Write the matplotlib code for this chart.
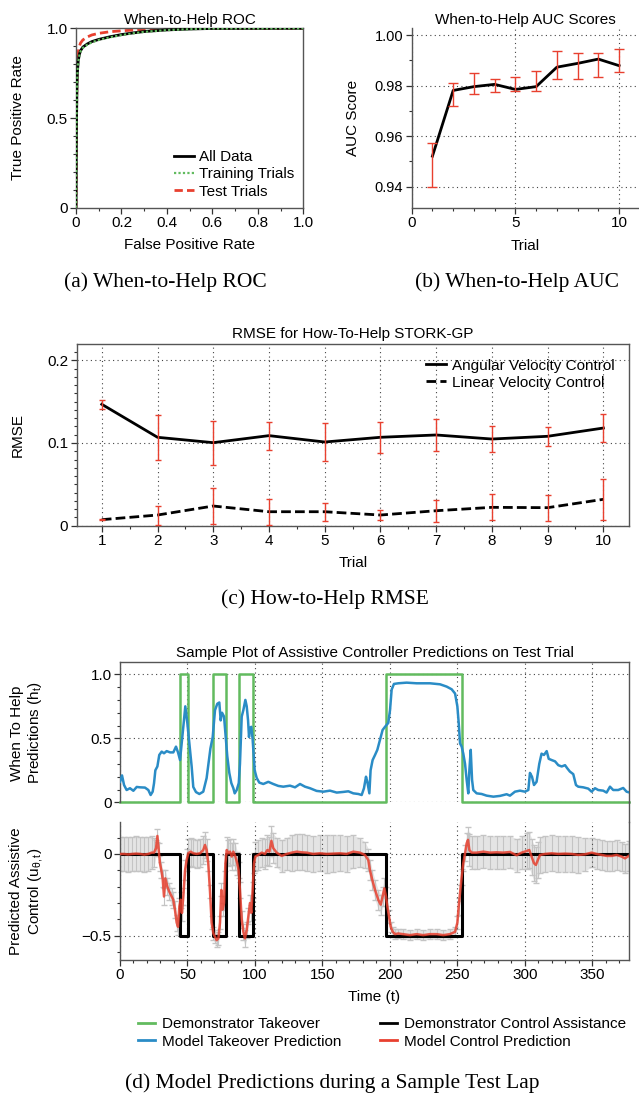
import matplotlib
matplotlib.use('Agg')
import matplotlib.pyplot as plt
from matplotlib.ticker import MultipleLocator, FixedLocator
from matplotlib.lines import Line2D

# ---- (a) ROC curves ----
fpr = [0, 0.002, 0.004, 0.006, 0.01, 0.015, 0.02, 0.03, 0.05, 0.07, 0.1, 0.15, 0.2, 0.25, 0.3, 0.4, 0.5, 0.6, 1.0]
tpr_all = [0, 0.45, 0.65, 0.75, 0.82, 0.855, 0.875, 0.895, 0.913, 0.926, 0.938, 0.953, 0.965, 0.974, 0.982, 0.991, 0.996, 0.999, 1.0]
tpr_train = [0, 0.44, 0.64, 0.745, 0.815, 0.85, 0.871, 0.891, 0.909, 0.922, 0.935, 0.95, 0.962, 0.972, 0.98, 0.99, 0.995, 0.999, 1.0]
tpr_test = [0, 0.5, 0.72, 0.82, 0.87, 0.9, 0.918, 0.935, 0.952, 0.963, 0.972, 0.981, 0.986, 0.99, 0.993, 0.997, 0.999, 1.0, 1.0]

# ---- (b) AUC per trial ----
trials = [1, 2, 3, 4, 5, 6, 7, 8, 9, 10]
auc = [0.9521, 0.9781, 0.9796, 0.9805, 0.9785, 0.9796, 0.9873, 0.9888, 0.9905, 0.9879]
auc_hi = [0.9574, 0.9811, 0.9848, 0.9827, 0.9836, 0.9859, 0.9938, 0.9930, 0.9930, 0.9943]
auc_lo = [0.9397, 0.9719, 0.9768, 0.9776, 0.9780, 0.9778, 0.9825, 0.9826, 0.9833, 0.9854]

# ---- (c) RMSE per trial ----
rmse_ang = [0.1468, 0.1069, 0.1004, 0.1089, 0.1012, 0.1069, 0.1097, 0.1048, 0.1081, 0.1181]
rmse_ang_err = [0.0055, 0.027, 0.0266, 0.017, 0.0226, 0.019, 0.019, 0.0155, 0.0117, 0.017]
rmse_lin = [0.0073, 0.0129, 0.0238, 0.0169, 0.0169, 0.0129, 0.0181, 0.0222, 0.0218, 0.0319]
rmse_lin_err = [0.001, 0.0115, 0.0215, 0.0157, 0.011, 0.006, 0.0135, 0.0157, 0.0157, 0.025]

# ---- (d) sample test lap ----
switch_t = [0, 44.5, 50.7, 68.6, 78.4, 88.4, 98.2, 197.4, 253.6, 377]
takeover = [0, 1, 0, 1, 0, 1, 0, 1, 0, 0]
assist = [0, -0.5, 0, -0.5, 0, -0.5, 0, -0.5, 0, 0]

help_t = [0, 1.5, 3.0, 4.9, 7.4, 9.9, 12.4, 14.8, 18.5, 21.0, 22.7, 24.2, 25.2, 26.2, 27.7, 29.1,
          30.9, 32.6, 34.6, 37.1, 39.5, 41.5, 43.0, 44.5, 45.7, 46.9, 48.4, 49.9, 51.4, 53.1, 54.3,
          56.3, 58.8, 61.7, 64.2, 65.5, 67.0, 68.7, 70.4, 72.1, 73.6, 74.6, 75.6, 77.1, 78.5, 79.5,
          81.0, 82.5, 84.0, 85.0, 86.5, 88.0, 88.9, 90.2, 91.4, 92.9, 93.9, 94.9, 95.6, 96.3, 97.3,
          98.3, 99.8, 101.3, 103.2, 106.2, 109.9, 113.6, 117.3, 121.0, 126.0, 129.7, 133.4, 137.1,
          140.8, 145.7, 150.7, 155.6, 160.6, 165.5, 169.2, 172.9, 176.6, 179.1, 180.8, 182.3, 183.3,
          184.8, 185.7, 187.2, 189.0, 190.7, 192.7, 194.6, 196.4, 198.8, 200.1, 201.3, 203.0, 206.2,
          212.4, 219.8, 229.7, 237.2, 242.1, 245.8, 248.3, 250.0, 251.0, 252.0, 253.2, 254.4, 255.7,
          256.9, 258.1, 258.9, 259.9, 260.9, 261.8, 264.3, 268.0, 271.7, 276.7, 281.6, 286.5, 289.0,
          292.7, 296.4, 300.1, 302.6, 303.8, 305.3, 306.8, 308.7, 310.7, 312.4, 314.2, 316.2, 317.7,
          319.9, 322.4, 324.8, 327.3, 329.8, 331.5, 333.4, 335.9, 337.9, 339.6, 343.3, 347.0, 349.5,
          352.0, 354.4, 358.1, 360.6, 363.1, 365.5, 369.2, 372.9, 375.4, 377.1]
help_pred = [0.16, 0.21, 0.135, 0.096, 0.11, 0.09, 0.12, 0.117, 0.115, 0.096, 0.057, 0.083, 0.148, 0.25, 0.28, 0.37,
             0.396, 0.383, 0.40, 0.39, 0.39, 0.435, 0.39, 0.33, 0.46, 0.59, 0.75, 0.62, 0.46, 0.28, 0.12,
             0.08, 0.065, 0.083, 0.19, 0.30, 0.42, 0.51, 0.72, 0.77, 0.78, 0.64, 0.70, 0.67, 0.49, 0.36,
             0.23, 0.15, 0.11, 0.07, 0.096, 0.15, 0.30, 0.67, 0.72, 0.80, 0.75, 0.64, 0.51, 0.58, 0.59,
             0.49, 0.25, 0.19, 0.154, 0.143, 0.16, 0.143, 0.128, 0.122, 0.13, 0.117, 0.143, 0.122,
             0.11, 0.089, 0.083, 0.091, 0.076, 0.081, 0.086, 0.07, 0.065, 0.057, 0.11, 0.20, 0.16,
             0.07, 0.25, 0.33, 0.37, 0.41, 0.49, 0.565, 0.59, 0.62, 0.72, 0.88, 0.925, 0.93,
             0.935, 0.93, 0.93, 0.922, 0.904, 0.883, 0.85, 0.75, 0.62, 0.46, 0.435, 0.38, 0.30,
             0.175, 0.07, 0.25, 0.41, 0.175, 0.096, 0.07, 0.065, 0.052, 0.044, 0.05, 0.063, 0.052,
             0.083, 0.091, 0.083, 0.096, 0.23, 0.20, 0.135, 0.16, 0.30, 0.38, 0.37, 0.40, 0.34,
             0.33, 0.32, 0.29, 0.28, 0.29, 0.265, 0.24, 0.22, 0.135, 0.122, 0.117, 0.107, 0.083,
             0.11, 0.096, 0.091, 0.076, 0.122, 0.096, 0.096, 0.112, 0.083, 0.078]

ctrl_t = [0, 3, 6, 9, 12, 15, 18, 21, 23.5, 25.2, 26.7, 27.7, 28.7, 29.6, 30.6, 31.6, 32.6, 33.6, 35.1,
          36.5, 38.3, 39.5, 40.7, 42.0, 43.0, 44.0, 44.9, 45.9, 46.9, 48.2, 49.4, 50.6, 52.3, 54.3,
          56.8, 59.3, 61.7, 63.0, 64.2, 65.4, 66.7, 67.9, 69.2, 70.4, 71.6, 72.9, 74.1, 75.1, 76.1,
          77.1, 78.1, 79.1, 80.3, 81.5, 82.8, 84.0, 85.5, 86.9, 87.9, 88.9, 90.2, 91.4, 92.6, 93.9,
          95.1, 96.3, 97.3, 98.3, 99.3, 100.3, 102.5, 105.0, 107.4, 109.2, 110.7, 112.2, 113.6,
          116.1, 119.8, 123.5, 127.2, 130.9, 134.6, 138.3, 143.2, 148.2, 153.1, 158.1, 163.0,
          167.9, 172.9, 177.8, 181.5, 184.0, 185.2, 187.0, 189.0, 191.4, 193.2, 194.6, 195.9,
          197.1, 198.1, 199.3, 200.6, 202.1, 203.8, 206.2, 209.9, 214.9, 219.8, 224.7, 229.7,
          234.6, 239.6, 244.5, 248.3, 250.0, 251.0, 252.0, 253.2, 254.4, 255.7, 256.9, 257.9,
          258.9, 260.6, 264.3, 269.3, 274.2, 279.1, 284.1, 289.0, 293.9, 297.6, 301.4, 303.3,
          305.0, 306.8, 308.2, 309.7, 311.2, 314.9, 319.9, 324.8, 329.8, 334.7, 339.6, 344.6,
          349.5, 353.2, 356.9, 360.6, 364.3, 368.0, 371.7, 374.2, 377.0]
ctrl_pred = [0.0, 0.0, -0.003, 0.0, 0.002, 0.0, -0.004, 0.0, 0.008, 0.008, 0.035, 0.11, 0.025, -0.057, -0.098, -0.149, -0.26, -0.149, -0.2,
             -0.23, -0.26, -0.28, -0.34, -0.42, -0.445, -0.32, -0.28, -0.36, -0.26, -0.10, -0.037, 0.004, 0.014, 0.004,
             0.0, 0.004, 0.024, 0.055, 0.024, -0.057, -0.23, -0.42, -0.486, -0.506, -0.527, -0.516, -0.42, -0.22, -0.34,
             -0.30, -0.057, 0.024, 0.004, 0.014, -0.016, 0.014, -0.016, -0.057, -0.10, -0.22, -0.40, -0.476, -0.516, -0.465,
             -0.38, -0.30, -0.36, -0.22, -0.057, -0.016, -0.006, 0.008, 0.0, 0.024, 0.014, 0.08, 0.035,
             0.008, -0.012, 0.0, 0.008, 0.014, 0.01, 0.008, 0.0, 0.004, 0.0, 0.002, 0.004,
             0.0, 0.014, 0.008, -0.006, -0.037, -0.098, -0.16, -0.22, -0.28, -0.31, -0.26, -0.21,
             -0.26, -0.32, -0.38, -0.445, -0.476, -0.49, -0.486, -0.49, -0.496, -0.49, -0.496, -0.49,
             -0.49, -0.496, -0.49, -0.476, -0.42, -0.32, -0.24, -0.14, -0.057, 0.004, 0.065, 0.086,
             0.024, 0.008, 0.008, 0.014, 0.008, 0.01, 0.008, 0.012, -0.008, 0.008, 0.018, 0.024,
             -0.016, -0.057, -0.067, -0.037, -0.006, 0.0, 0.004, 0.0, 0.002, 0.0, -0.006, -0.002,
             0.008, 0.0, -0.006, -0.012, -0.012, -0.006, -0.016, -0.027, -0.012]
ctrl_std = [0.105, 0.105, 0.105, 0.105, 0.105, 0.105, 0.105, 0.105, 0.1, 0.09, 0.05, 0.04, 0.04, 0.05, 0.05, 0.05, 0.05, 0.05, 0.05,
            0.05, 0.05, 0.05, 0.05, 0.05, 0.05, 0.05, 0.05, 0.05, 0.05, 0.06, 0.07, 0.085, 0.085, 0.085,
            0.085, 0.085, 0.085, 0.08, 0.07, 0.05, 0.04, 0.04, 0.04, 0.04, 0.04, 0.04, 0.04, 0.04, 0.04,
            0.04, 0.05, 0.08, 0.08, 0.08, 0.08, 0.08, 0.08, 0.07, 0.05, 0.05, 0.05, 0.05, 0.05, 0.05,
            0.05, 0.05, 0.05, 0.05, 0.06, 0.09, 0.09, 0.09, 0.09, 0.09, 0.09, 0.09, 0.09,
            0.09, 0.1, 0.1, 0.11, 0.11, 0.11, 0.11, 0.11, 0.11, 0.115, 0.115, 0.11,
            0.11, 0.1, 0.09, 0.08, 0.07, 0.06, 0.06, 0.06, 0.06, 0.06, 0.06, 0.06,
            0.06, 0.05, 0.04, 0.03, 0.03, 0.03, 0.03, 0.03, 0.03, 0.03, 0.03, 0.03,
            0.03, 0.03, 0.03, 0.03, 0.04, 0.05, 0.05, 0.05, 0.05, 0.05, 0.06, 0.08,
            0.1, 0.1, 0.1, 0.1, 0.1, 0.1, 0.1, 0.1, 0.1, 0.1, 0.11, 0.11,
            0.11, 0.11, 0.11, 0.11, 0.11, 0.11, 0.11, 0.11, 0.11, 0.11, 0.11, 0.1,
            0.09, 0.09, 0.09, 0.09, 0.09, 0.09, 0.09, 0.09, 0.09]

GREEN = '#62bb5f'
BLUE = '#2a8cc6'
RED = '#e8402f'
GRAY = '#555555'
FS = 11

plt.rcParams['font.family'] = ['Liberation Sans', 'DejaVu Sans']
plt.rcParams['mathtext.fontset'] = 'custom'
plt.rcParams['mathtext.rm'] = 'Liberation Sans'
plt.rcParams['mathtext.it'] = 'Liberation Sans:italic'
plt.rcParams['font.size'] = FS
plt.rcParams['xtick.direction'] = 'out'
plt.rcParams['ytick.direction'] = 'out'

W, H = 639, 1094
fig = plt.figure(figsize=(W / 100, H / 100), dpi=100)


def box(l, t, r, b):
    return [l / W, 1 - b / H, (r - l) / W, (b - t) / H]


def style(ax):
    for s in ax.spines.values():
        s.set_color(GRAY)
        s.set_linewidth(1.0)
    ax.tick_params(which='major', length=4, width=0.9, color='#333333', labelsize=FS, pad=2)
    ax.tick_params(which='minor', length=2.5, width=0.8, color='#333333')


def dotted_grid(ax):
    ax.grid(True, which='major', linestyle=(0, (1, 3)), color='#444444', linewidth=0.8)


# (a)
ax = fig.add_axes(box(76, 28.3, 303.3, 207.7))
style(ax)
ax.plot(fpr, tpr_all, color='black', lw=2, label='All Data', zorder=3)
ax.plot(fpr, tpr_train, color=GREEN, lw=1.6, ls=(0, (1, 1)), label='Training Trials', zorder=4)
ax.plot(fpr, tpr_test, color=RED, lw=2, ls=(0, (3, 1.5)), label='Test Trials', zorder=2)
ax.set_xlim(0, 1)
ax.set_ylim(0, 1)
ax.xaxis.set_major_locator(FixedLocator([0, 0.2, 0.4, 0.6, 0.8, 1.0]))
ax.xaxis.set_minor_locator(MultipleLocator(0.1))
ax.yaxis.set_major_locator(FixedLocator([0, 0.5, 1.0]))
ax.yaxis.set_minor_locator(MultipleLocator(0.1))
ax.set_xticklabels(['0', '0.2', '0.4', '0.6', '0.8', '1.0'])
ax.set_yticklabels(['0', '0.5', '1.0'])
ax.set_title('When-to-Help ROC', fontsize=FS, pad=3)
ax.set_xlabel('False Positive Rate')
ax.set_ylabel('True Positive Rate')
ax.xaxis.set_label_coords(0.5, -0.169)
ax.yaxis.set_label_coords(-0.224, 0.5)
ax.legend(loc='lower right', frameon=False, fontsize=FS, handlelength=1.3, handletextpad=0.35,
          labelspacing=0.2, borderaxespad=0.4, borderpad=0.2)

# (b)
ax = fig.add_axes(box(411.7, 28, 639, 207.7))
style(ax)
ax.spines['top'].set_visible(False)
ax.spines['right'].set_visible(False)
err = [[a - l for a, l in zip(auc, auc_lo)], [h - a for a, h in zip(auc, auc_hi)]]
ax.errorbar(trials, auc, yerr=err, fmt='none', ecolor=RED, elinewidth=1, capsize=3.5, zorder=3)
ax.plot(trials, auc, color='black', lw=2, zorder=2)
ax.set_xlim(0, 10.96)
ax.set_ylim(0.9317, 1.0028)
ax.xaxis.set_major_locator(MultipleLocator(5))
ax.xaxis.set_minor_locator(MultipleLocator(1))
ax.yaxis.set_major_locator(FixedLocator([0.94, 0.96, 0.98, 1.00]))
ax.yaxis.set_minor_locator(MultipleLocator(0.01))
ax.set_yticklabels(['0.94', '0.96', '0.98', '1.00'])
ax.tick_params(axis='y', labelsize=10.5)
dotted_grid(ax)
ax.set_title('When-to-Help AUC Scores', fontsize=FS, pad=3)
ax.set_xlabel('Trial')
ax.set_ylabel('AUC Score')
ax.xaxis.set_label_coords(0.5, -0.174)
ax.yaxis.set_label_coords(-0.2275, 0.5)

# (c)
ax = fig.add_axes(box(76.7, 344, 629, 525.7))
style(ax)
ax.errorbar(trials, rmse_ang, yerr=rmse_ang_err, fmt='none', ecolor=RED, elinewidth=1, capsize=2.5, zorder=3)
ax.errorbar(trials, rmse_lin, yerr=rmse_lin_err, fmt='none', ecolor=RED, elinewidth=1, capsize=2.5, zorder=3)
ax.plot(trials, rmse_ang, color='black', lw=2, label='Angular Velocity Control', zorder=2)
ax.plot(trials, rmse_lin, color='black', lw=2, ls=(0, (3.5, 1.5)), label='Linear Velocity Control', zorder=2)
ax.set_xlim(0.55, 10.46)
ax.set_ylim(0, 0.2197)
ax.xaxis.set_major_locator(MultipleLocator(1))
ax.xaxis.set_minor_locator(MultipleLocator(0.5))
ax.yaxis.set_major_locator(FixedLocator([0, 0.1, 0.2]))
ax.yaxis.set_minor_locator(MultipleLocator(0.01))
ax.set_yticklabels(['0', '0.1', '0.2'])
dotted_grid(ax)
ax.set_title('RMSE for How-To-Help STORK-GP', fontsize=FS, pad=4)
ax.set_xlabel('Trial')
ax.set_ylabel('RMSE')
ax.xaxis.set_label_coords(0.5, -0.167)
ax.yaxis.set_label_coords(-0.0936, 0.5)
ax.legend(loc='upper right', frameon=False, fontsize=FS, handlelength=1.3, handletextpad=0.4,
          labelspacing=0.2, borderaxespad=0.55, borderpad=0.4)

# (d) top: when to help
axt = fig.add_axes(box(120, 662.3, 629, 802.3))
style(axt)
axt.spines['bottom'].set_visible(False)
axt.plot(switch_t, takeover, color=GREEN, lw=1.8, drawstyle='steps-post', clip_on=False, zorder=2)
axt.plot(help_t, help_pred, color=BLUE, lw=1.8, zorder=3)
axt.set_xlim(0, 377.2)
axt.set_ylim(0, 1.094)
axt.xaxis.set_major_locator(MultipleLocator(50))
axt.tick_params(axis='x', which='both', bottom=False, labelbottom=False)
axt.yaxis.set_major_locator(FixedLocator([0, 0.5, 1.0]))
axt.yaxis.set_minor_locator(MultipleLocator(0.1))
axt.set_yticklabels(['0', '0.5', '1.0'])
dotted_grid(axt)
axt.set_title('Sample Plot of Assistive Controller Predictions on Test Trial', fontsize=FS, pad=4)

# (d) bottom: how to help
axb = fig.add_axes(box(120, 821.7, 629, 960))
style(axb)
axb.spines['top'].set_visible(False)
lo = [m - s for m, s in zip(ctrl_pred, ctrl_std)]
hi = [m + s for m, s in zip(ctrl_pred, ctrl_std)]
axb.fill_between(ctrl_t, lo, hi, color='#e4e4e4', lw=0, zorder=0)
axb.errorbar(ctrl_t, ctrl_pred, yerr=ctrl_std, fmt='none', ecolor='#c4c4c4', elinewidth=0.8, capsize=2, zorder=1)
axb.plot(switch_t, assist, color='black', lw=2.2, drawstyle='steps-post', zorder=2)
axb.plot(ctrl_t, ctrl_pred, color=RED, lw=1.8, alpha=0.85, zorder=3)
axb.set_xlim(0, 377.2)
axb.set_ylim(-0.648, 0.197)
axb.xaxis.set_major_locator(MultipleLocator(50))
axb.xaxis.set_minor_locator(MultipleLocator(10))
axb.yaxis.set_major_locator(FixedLocator([-0.5, 0]))
axb.yaxis.set_minor_locator(MultipleLocator(0.1))
axb.set_yticklabels(['\u22120.5', '0'])
dotted_grid(axb)
axb.set_xlabel('Time (t)')
axb.xaxis.set_label_coords(0.5, -0.217)

# continuous right spine across the gap
fig.add_artist(Line2D([629 / W, 629 / W], [1 - 821.7 / H, 1 - 802.3 / H], color=GRAY, lw=1.0))

fig.text(27 / W, 1 - 733 / H, 'When To Help\nPredictions (h$_\\mathregular{t}$)', rotation=90,
         ha='center', va='center', multialignment='center', fontsize=FS)
fig.text(27 / W, 1 - 891 / H, 'Predicted Assistive\nControl (u$_{\\mathregular{\\theta,t}}$)', rotation=90,
         ha='center', va='center', multialignment='center', fontsize=FS)

handles = [Line2D([], [], color=GREEN, lw=2), Line2D([], [], color=BLUE, lw=2),
           Line2D([], [], color='black', lw=2), Line2D([], [], color=RED, lw=2)]
labels = ['Demonstrator Takeover', 'Model Takeover Prediction',
          'Demonstrator Control Assistance', 'Model Control Prediction']
fig.legend(handles, labels, ncol=2, frameon=False, fontsize=FS, loc='center left',
           bbox_to_anchor=(124 / W, 1 - 1033 / H), handlelength=1.15, handletextpad=0.45,
           columnspacing=2.5, labelspacing=0.2, borderpad=0.4)

# captions
cap = dict(family='Liberation Serif', fontsize=15.5, ha='center', va='center')
fig.text(165 / W, 1 - 282 / H, '(a) When-to-Help ROC', **cap)
fig.text(517 / W, 1 - 282 / H, '(b) When-to-Help AUC', **cap)
fig.text(325 / W, 1 - 599 / H, '(c) How-to-Help RMSE', **cap)
fig.text(332 / W, 1 - 1083 / H, '(d) Model Predictions during a Sample Test Lap', **cap)

fig.savefig('out.png', dpi=100)
